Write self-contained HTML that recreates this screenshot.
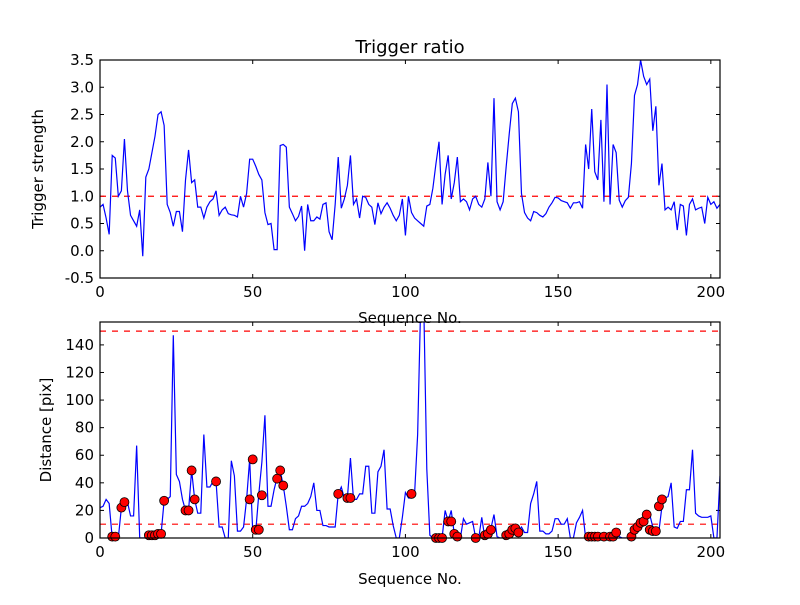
<!DOCTYPE html>
<html><head><meta charset="utf-8"><style>
body{margin:0;background:#fff}
svg{font-family:"DejaVu Sans","Liberation Sans",sans-serif}
</style></head><body>
<svg id="c" width="800" height="600" viewBox="0 0 800 600">
<rect width="800" height="600" fill="#fff"/>
<defs>
<clipPath id="clipT"><rect x="100" y="60" width="620" height="218"/></clipPath>
<clipPath id="clipB"><rect x="100" y="322" width="620" height="216"/></clipPath>
</defs>
<g id="top"></g>
<g id="bot"></g>
<text x="410" y="53" text-anchor="middle" font-size="18">Trigger ratio</text>
<text x="410" y="323" text-anchor="middle" font-size="15">Sequence No.</text>
<text x="410" y="584" text-anchor="middle" font-size="15">Sequence No.</text>
<text transform="translate(43,169) rotate(-90)" text-anchor="middle" font-size="15">Trigger strength</text>
<text transform="translate(51,430) rotate(-90)" text-anchor="middle" font-size="15">Distance [pix]</text>
</svg>
<script>
const ratioValues=[0.8,0.85,0.6,0.3,1.75,1.7,1.0,1.1,2.05,1.1,0.65,0.55,0.45,0.75,-0.1,1.35,1.5,1.8,2.1,2.5,2.55,2.3,0.85,0.7,0.45,0.72,0.72,0.35,1.3,1.85,1.25,1.3,0.8,0.8,0.6,0.8,0.9,0.95,1.1,0.65,0.75,0.8,0.68,0.66,0.65,0.62,1.0,0.8,1.05,1.68,1.68,1.55,1.4,1.3,0.7,0.48,0.5,0.02,0.02,1.93,1.95,1.9,0.8,0.68,0.55,0.63,0.82,0.0,0.85,0.55,0.55,0.62,0.58,0.85,0.88,0.35,0.2,0.85,1.72,0.78,0.95,1.2,1.75,0.85,0.95,0.6,1.0,0.98,0.85,0.8,0.48,0.88,0.68,0.8,0.88,0.78,0.65,0.55,0.65,0.95,0.28,1.0,0.7,0.6,0.55,0.5,0.45,0.82,0.85,1.15,1.6,2.0,0.85,1.4,1.75,0.95,1.25,1.72,0.9,0.95,0.9,0.75,0.95,1.0,0.85,0.8,0.95,1.62,1.0,2.8,0.9,0.75,0.9,1.55,2.15,2.7,2.8,2.55,1.05,0.7,0.6,0.55,0.72,0.7,0.65,0.62,0.68,0.8,0.88,0.98,0.97,0.92,0.9,0.88,0.78,0.88,0.88,0.9,0.78,1.95,1.5,2.6,1.45,1.3,2.4,0.9,3.05,0.85,1.95,1.8,0.93,0.8,0.92,0.98,1.6,2.85,3.05,3.5,3.2,3.05,3.15,2.2,2.65,1.2,1.6,0.75,0.8,0.75,0.9,0.38,0.85,0.82,0.28,0.85,0.95,0.75,0.78,0.8,0.5,0.98,0.85,0.9,0.78,0.85];
const distValues=[22,23,28,25,0,0,0,22,25,26,16,16,67,0,0,0,1,2,2,2,3,27,28,30,147,46,41,28,20,20,49,28,18,18,75,37,37,41,41,8,8,0,0,56,45,5,5,8,28,57,5,5,32,55,89,23,23,35,44,49,38,23,6,6,14,16,23,23,25,30,40,20,20,9,9,8,8,8,32,37,29,29,58,28,28,32,32,52,52,18,18,48,52,64,21,21,9,0,0,15,33,29,29,32,75,170,170,50,2,0,0,0,0,20,12,20,3,1,0,14,10,11,12,0,0,15,0,4,7,17,1,0,0,0,2,4,7,5,8,4,4,25,32,41,5,5,3,3,5,14,14,10,10,14,0,0,11,15,20,0,0,0,0,0,1,1,1,1,2,5,1,0,0,0,0,2,8,9,12,12,17,8,6,5,23,29,30,40,8,7,12,12,35,35,64,18,16,15,15,15,16,0,0,45];
const markerIdx=[4,5,7,8,16,17,18,19,20,21,28,29,30,31,38,49,50,51,52,53,58,59,60,78,81,82,102,110,111,112,114,115,116,117,123,126,127,128,133,134,135,136,137,160,161,162,163,165,167,168,169,174,175,176,177,178,179,180,181,182,183,184];
const markerVal=[1,1,22,26,2,2,2,3,3,27,20,20,49,28,41,28,57,6,6,31,43,49,38,32,29,29,32,0,0,0,12,12,3,1,0,2,3,6,2,3,6,7,4,1,1,1,1,1,1,1,4,1,6,8,11,12,17,6,5,5,23,28];
const topTicks=[-0.5,0.0,0.5,1.0,1.5,2.0,2.5,3.0,3.5];
const botTicks=[0,20,40,60,80,100,120,140];
const xTicks=[0,50,100,150,200];
const ratioThreshold=[1.0];
const distThresholds=[10,150];

const NS="http://www.w3.org/2000/svg";
function mk(tag,attrs,parent){const e=document.createElementNS(NS,tag);for(const k in attrs)e.setAttribute(k,attrs[k]);parent.appendChild(e);return e;}
const X0=100,X1=720,XMAX=203;
const sx=v=>X0+(X1-X0)*v/XMAX;
function panel(g,top,bot,ymin,ymax,ticks,fmt){
  const sy=v=>bot-(bot-top)*(v-ymin)/(ymax-ymin);
  ticks.forEach(t=>{const y=sy(t);
    const l1=mk('line',{x1:X0,x2:X0+4,y1:y,y2:y,stroke:'#000'},g);
    
    mk('line',{x1:X1,x2:X1-4,y1:y,y2:y,stroke:'#000'},g);
    const tx=mk('text',{x:X0-6,y:y+5,'text-anchor':'end','font-size':'15'},g);
    
    tx.textContent=fmt(t);});
  xTicks.forEach(t=>{const x=sx(t);
    mk('line',{x1:x,x2:x,y1:bot,y2:bot-4,stroke:'#000'},g);
    mk('line',{x1:x,x2:x,y1:top,y2:top+4,stroke:'#000'},g);
    const tx=mk('text',{x:x,y:bot+19,'text-anchor':'middle','font-size':'15'},g);
    
    tx.textContent=t;});
  return sy;
}
const gT=document.getElementById('top'),gB=document.getElementById('bot');
const syT=panel(gT,60,278,-0.5,3.5,topTicks,t=>t.toFixed(1));
const syB=panel(gB,322,538,0,156.6,botTicks,t=>t);
ratioThreshold.forEach(v=>{const l=mk('line',{x1:X0,x2:X1,y1:syT(v),y2:syT(v),stroke:'#f00','stroke-dasharray':'6,6','stroke-width':1.2,'clip-path':'url(#clipT)'},gT);
  });
const pT=mk('polyline',{points:ratioValues.map((v,i)=>sx(i)+','+syT(v)).join(' '),fill:'none',stroke:'#00f','stroke-width':1.2,'clip-path':'url(#clipT)'},gT);

distThresholds.forEach(v=>{const l=mk('line',{x1:X0,x2:X1,y1:syB(v),y2:syB(v),stroke:'#f00','stroke-dasharray':'6,6','stroke-width':1.2,'clip-path':'url(#clipB)'},gB);
  });
const pB=mk('polyline',{points:distValues.map((v,i)=>sx(i)+','+syB(v)).join(' '),fill:'none',stroke:'#00f','stroke-width':1.2,'clip-path':'url(#clipB)'},gB);

const gm=mk('g',{},gB);
markerIdx.forEach((ix,k)=>{const c=mk('circle',{cx:sx(ix),cy:syB(markerVal[k]),r:4.5,fill:'#f00',stroke:'#000','stroke-width':0.8},gm);
  });
[[gT,60,278],[gB,322,538]].forEach(([g,t,b])=>{const r=mk('rect',{x:X0,y:t,width:X1-X0,height:b-t,fill:'none',stroke:'#000','stroke-width':1.2},g);
  });
</script>
</body></html>
